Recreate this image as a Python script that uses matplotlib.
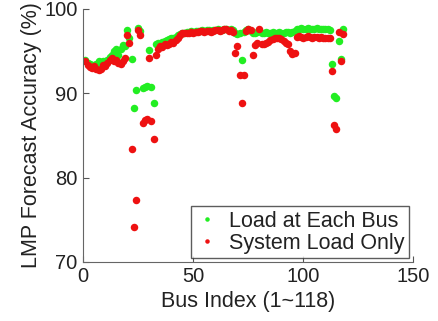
import matplotlib
matplotlib.use("Agg")
import matplotlib.pyplot as plt
import numpy as np

plt.rcParams['font.family'] = ['Liberation Sans', 'DejaVu Sans']

# forecast accuracy (%) per bus
acc_each_bus = [
    94.0, 93.6, 93.5, 93.4, 93.3, 93.5, 93.8, 93.6, 93.8, 93.4,
    93.9, 94.3, 94.6, 95.0, 95.2, 94.6, 95.3, 95.7, 95.6, 97.5,
    96.5, 94.1, 88.2, 90.4, 97.8, 97.4, 90.6, 90.8, 90.9, 95.1,
    90.8, 88.8, 95.8, 96.0, 95.9, 96.1, 96.2, 96.3, 96.4, 96.5,
    96.6, 96.7, 96.9, 97.0, 97.2, 97.2, 97.3, 97.3, 97.4, 97.3,
    97.4, 97.4, 97.4, 97.5, 97.4, 97.5, 97.5, 97.4, 97.5, 97.5,
    97.6, 97.5, 97.5, 97.6, 97.6, 97.5, 97.6, 97.5, 97.2, 97.0,
    97.1, 94.0, 97.3, 97.5, 97.6, 97.4, 97.2, 97.1, 97.3, 97.4,
    97.2, 97.2, 97.3, 97.2, 97.2, 97.3, 97.2, 97.2, 97.3, 97.2,
    97.2, 97.3, 97.3, 97.2, 97.3, 97.4, 97.6, 97.6, 97.7, 97.6,
    97.6, 97.7, 97.6, 97.6, 97.6, 97.7, 97.6, 97.6, 97.6, 97.6,
    97.6, 97.5, 93.5, 89.7, 89.5, 96.2, 94.1, 97.6,
]
acc_system_load = [
    93.8, 93.4, 93.1, 93.0, 93.2, 92.9, 92.8, 92.9, 93.4, 93.2,
    93.6, 93.9, 94.2, 93.8, 94.0, 93.6, 93.5, 93.8, 94.2, 96.9,
    96.0, 83.4, 74.1, 77.3, 97.5, 96.9, 86.5, 86.8, 86.9, 94.2,
    86.7, 84.6, 94.6, 95.3, 95.6, 95.5, 95.8, 95.7, 95.9, 96.1,
    96.0, 96.3, 96.6, 96.9, 97.1, 97.1, 97.2, 97.2, 97.3, 97.2,
    97.3, 97.3, 97.4, 97.4, 97.3, 97.4, 97.4, 97.3, 97.4, 97.5,
    97.5, 97.4, 97.5, 97.6, 97.6, 97.4, 97.5, 97.3, 94.8, 95.6,
    92.2, 88.8, 92.2, 97.4, 97.6, 97.5, 94.5, 95.7, 96.0, 97.6,
    95.8, 95.9, 96.0, 96.1, 96.3, 96.4, 96.6, 96.6, 96.5, 96.4,
    96.2, 96.0, 95.9, 95.0, 94.7, 94.8, 96.7, 96.8, 96.7, 96.6,
    96.7, 96.8, 96.7, 96.6, 96.7, 96.7, 96.6, 96.7, 96.6, 96.6,
    96.6, 96.6, 92.6, 86.2, 85.8, 97.3, 93.8, 97.0,
]
bus_index = np.arange(1, len(acc_each_bus) + 1)

fig = plt.figure(figsize=(4.38, 3.21), dpi=100)
ax = fig.add_axes([0.190, 0.184, 0.754, 0.788])

ax.plot(bus_index, acc_each_bus, 'o', color='#22ee22', markersize=5.4,
        markeredgewidth=0, label='Load at Each Bus')
ax.plot(bus_index, acc_system_load, 'o', color='#ee1111', markersize=5.4,
        markeredgewidth=0, label='System Load Only')

ax.set_xlim(0, 150)
ax.set_ylim(70, 100)
ax.set_xticks([0, 50, 100, 150])
ax.set_yticks([70, 80, 90, 100])
ax.tick_params(direction='in', labelsize=14.5, length=4, color='#555555',
               labelcolor='#222222')
ax.tick_params(axis='x', pad=4)
ax.tick_params(axis='y', pad=4)
ax.spines['top'].set_visible(False)
ax.spines['right'].set_visible(False)
for s in ('left', 'bottom'):
    ax.spines[s].set_color('#666666')

ax.set_xlabel('Bus Index (1~118)', fontsize=15.5, labelpad=3, color='#222222')
ax.set_ylabel('LMP Forecast Accuracy (%)', fontsize=15.5, labelpad=2, color='#222222')

leg = ax.legend(loc='lower right', bbox_to_anchor=(0.987, 0.016), borderaxespad=0,
                fontsize=15.5, frameon=True, fancybox=False, markerscale=0.6,
                handletextpad=0.5, handlelength=1.1, borderpad=0.2,
                labelspacing=0.05)
leg.get_frame().set_edgecolor('#333333')
leg.get_frame().set_linewidth(1.0)
for t in leg.get_texts():
    t.set_color('#222222')

fig.savefig('out.png', dpi=100)
